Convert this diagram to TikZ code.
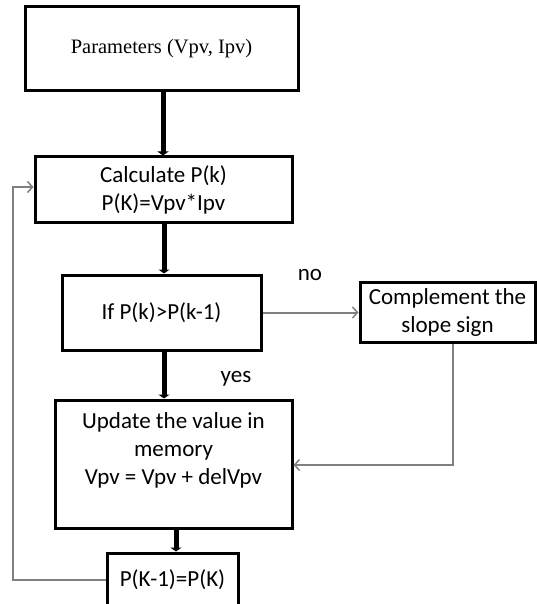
\documentclass[tikz,border=0pt]{standalone}
\usepackage{fontspec}
\setmainfont{Carlito}
\newfontfamily\timesfont{Liberation Serif}
\usetikzlibrary{arrows.meta}
\definecolor{linegray}{HTML}{808080}
\tikzset{
  boxnode/.style={draw=black, line width=3pt, inner sep=0pt, align=center,
    font=\fontsize{23}{28}\selectfont},
  txtnode/.style={inner sep=0pt, align=center, font=\fontsize{23}{28}\selectfont},
  thickarrow/.style={line width=5pt, -{Triangle[length=4pt,width=11pt]}},
  thinarrow/.style={draw=linegray, line width=2pt, -{Straight Barb[length=5pt,width=11pt,line width=1.5pt]}},
  thinline/.style={draw=linegray, line width=2pt}
}
\begin{document}
\begin{tikzpicture}[x=1pt,y=-1pt]
\useasboundingbox (0,0) rectangle (537,604);
\node[boxnode, minimum width=273pt, minimum height=84pt, font=\timesfont\fontsize{20.5}{25}\selectfont] (p1) at (161.5,49) {Parameters (Vpv, Ipv)};
\node[boxnode, minimum width=257pt, minimum height=65pt] (calc) at (163.5,189.5) {Calculate P(k)\\P(K)=Vpv*Ipv};
\node[boxnode, minimum width=199pt, minimum height=75pt] (ifb) at (161.5,312.5) {If P(k)>P(k-1)};
\node[boxnode, minimum width=175pt, minimum height=60pt] (comp) at (447.5,312) {Complement the\\slope sign};
\node[boxnode, minimum width=237pt, minimum height=128pt] (upd) at (173.5,464) {};
\node[txtnode] (updtext) at (173.5,450) {Update the value in\\memory\\Vpv = Vpv + delVpv};
\node[boxnode, minimum width=131pt, minimum height=54pt] (pk) at (172.5,580) {P(K-1)=P(K)};
\node[txtnode] (no) at (310,275) {no};
\node[txtnode] (yes) at (236,379) {yes};
\coordinate (fb) at (13,580);
\draw[thickarrow] ([xshift=1.5pt]p1.south) -- ([xshift=1.5pt]p1.south |- calc.north);
\draw[thickarrow] ([xshift=0.5pt]calc.south) -- ([xshift=0.5pt]calc.south |- ifb.north);
\draw[thickarrow] ([xshift=2.5pt]ifb.south) -- ([xshift=2.5pt]ifb.south |- upd.north);
\draw[thickarrow] ([xshift=2.5pt]upd.south) -- ([xshift=2.5pt]upd.south |- pk.north);
\draw[thinarrow] (ifb.east) -- (comp.west |- ifb.east);
\draw[thinarrow] ([xshift=5.5pt]comp.south) |- ([yshift=-1pt]upd.east);
\draw[thinarrow] (pk.west) -- (fb) |- ([yshift=2.5pt]calc.west);
\end{tikzpicture}
\end{document}
